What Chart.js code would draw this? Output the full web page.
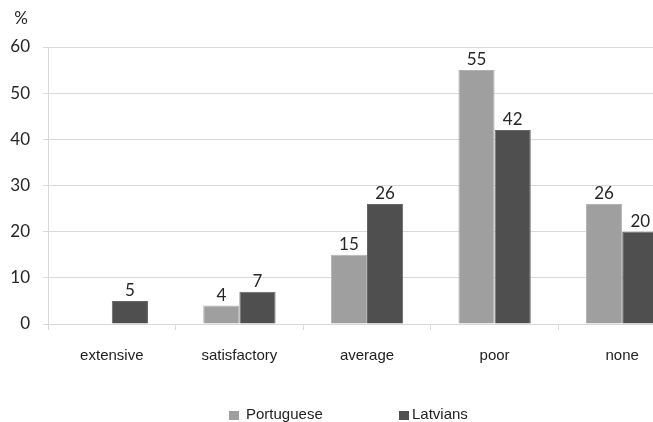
<!DOCTYPE html>
<html>
<head>
<meta charset="utf-8">
<script src="https://cdn.jsdelivr.net/npm/chart.js@4"></script>
<style>
  html, body { margin: 0; padding: 0; background: #fff; overflow: hidden; }
  #wrap { position: relative; width: 690px; height: 422px; }
  #legend { position: absolute; left: 0; top: 405px; width: 653px; height: 18px;
            font: 15px "Liberation Sans", Arial, sans-serif; color: #222; }
  .item { position: absolute; top: 0; display: flex; align-items: center; }
  .sw { width: 10px; height: 9px; margin-right: 7px; margin-top: 3px; }
</style>
</head>
<body>
<div id="wrap">
  <canvas id="c" width="690" height="422"></canvas>
  <div id="legend"></div>
</div>
<script>
// Knowledge level categories and the share of respondents (%) in each group
const categories = ['extensive', 'satisfactory', 'average', 'poor', 'none'];
const portuguese = [null, 4, 15, 55, 26];
const latvians = [5, 7, 26, 42, 20];
const yTicks = [0, 10, 20, 30, 40, 50, 60];
const seriesNames = ['Portuguese', 'Latvians'];
const seriesColors = ['#9f9f9f', '#4f4f4f'];
const seriesBorders = ['#b2b2b2', '#666666'];

const gridColor = '#d9d9d9';
const textColor = '#262626';

// Value labels above each bar
const valueLabels = {
  id: 'valueLabels',
  afterDatasetsDraw(chart) {
    const ctx = chart.ctx;
    ctx.save();
    ctx.font = '17px Lato, sans-serif';
    ctx.fillStyle = textColor;
    ctx.textAlign = 'center';
    ctx.textBaseline = 'alphabetic';
    chart.data.datasets.forEach((ds, i) => {
      const meta = chart.getDatasetMeta(i);
      meta.data.forEach((bar, j) => {
        const v = ds.data[j];
        if (v === null || v === undefined) return;
        ctx.fillText(String(v), bar.x, bar.y - 5);
      });
    });
    ctx.restore();
  }
};

// Unit marker above the value axis
const unitLabel = {
  id: 'unitLabel',
  afterDraw(chart) {
    const ctx = chart.ctx;
    const a = chart.chartArea;
    ctx.save();
    ctx.font = '17px Lato, sans-serif';
    ctx.fillStyle = textColor;
    ctx.textAlign = 'center';
    ctx.textBaseline = 'middle';
    ctx.fillText('%', a.left - 27, a.top - 28);
    ctx.restore();
  }
};

new Chart(document.getElementById('c'), {
  type: 'bar',
  data: {
    labels: categories,
    datasets: [
      { label: seriesNames[0], data: portuguese, backgroundColor: seriesColors[0],
        borderColor: seriesBorders[0], borderWidth: 1,
        categoryPercentage: 0.567, barPercentage: 1 },
      { label: seriesNames[1], data: latvians, backgroundColor: seriesColors[1],
        borderColor: seriesBorders[1], borderWidth: 1,
        categoryPercentage: 0.567, barPercentage: 1 }
    ]
  },
  options: {
    responsive: false,
    animation: false,
    layout: { padding: { top: 47, right: 4, bottom: 48, left: 0 } },
    plugins: { legend: { display: false }, tooltip: { enabled: false } },
    scales: {
      x: {
        grid: { display: true, drawOnChartArea: false, drawTicks: true, tickLength: 6,
                color: gridColor, offset: true },
        border: { display: true, color: gridColor },
        ticks: { color: '#222', font: { family: '"Liberation Sans", Arial, sans-serif', size: 15 },
                 padding: 17, maxRotation: 0, autoSkip: false },
        afterFit(s) { s.height = 50; }
      },
      y: {
        min: 0, max: 60,
        afterBuildTicks(s) { s.ticks = yTicks.map(v => ({ value: v })); },
        grid: { color: gridColor, tickLength: 5 },
        border: { display: true, color: gridColor },
        ticks: { color: textColor, font: { family: 'Lato, sans-serif', size: 17 }, padding: 13 },
        afterFit(s) { s.width = 48; }
      }
    }
  },
  plugins: [valueLabels, unitLabel]
});

// Legend row under the chart
const legend = document.getElementById('legend');
const legendLeft = [229, 399];
seriesNames.forEach((name, i) => {
  const item = document.createElement('div');
  item.className = 'item';
  item.style.left = legendLeft[i] + 'px';
  const sw = document.createElement('span');
  sw.className = 'sw';
  sw.style.background = seriesColors[i];
  if (i === 1) sw.style.marginRight = '3px';
  const t = document.createElement('span');
  t.textContent = name;
  item.appendChild(sw);
  item.appendChild(t);
  legend.appendChild(item);
});
</script>
</body>
</html>
